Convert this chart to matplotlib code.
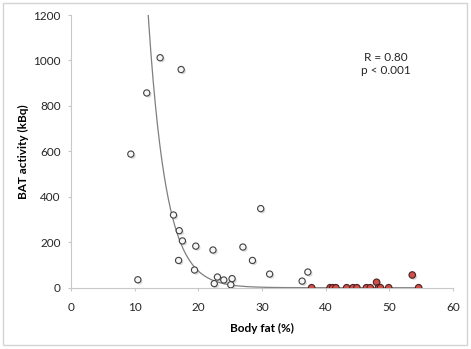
import matplotlib
matplotlib.use("Agg")
import matplotlib.pyplot as plt
import matplotlib.patheffects as pe
from matplotlib.patches import Rectangle
import numpy as np

plt.rcParams["font.family"] = ["Lato", "DejaVu Sans"]

# subjects with detectable BAT (open markers)
fat_open = [9.4, 11.9, 14.0, 17.3, 10.5, 16.1, 17.0, 17.5, 16.9, 19.6, 19.4, 22.3,
            22.5, 23.0, 24.0, 25.1, 25.3, 27.0, 29.8, 28.5, 31.2, 36.3, 37.2]
bat_open = [588, 857, 1012, 960, 35, 320, 251, 206, 120, 183, 78, 166,
            18, 47, 34, 13, 40, 179, 348, 120, 60, 29, 69]

# obese subjects (red markers)
fat_red = [37.8, 40.7, 41.1, 41.6, 43.3, 44.3, 44.9, 46.4, 47.0, 48.0, 48.3, 48.6,
           49.9, 53.6, 54.6]
bat_red = [0, 0, 0, 0, 0, 0, 0, 0, 0, 24, 0, 0, 0, 56, 0]

# exponential trendline y = A * exp(-B * x)
fit_A = 89000.0
fit_B = 0.355

stats_text = "R = 0.80\np < 0.001"

fig = plt.figure(figsize=(4.71, 3.49), dpi=100)
ax = fig.add_axes([0.1507, 0.1756, 0.8111, 0.7814])

shadow = [pe.SimplePatchShadow(offset=(1.2, -1.2), shadow_rgbFace="#999999", alpha=0.35),
          pe.Normal()]

xs = np.linspace(min(fat_open), max(fat_red), 400)
ax.plot(xs, fit_A * np.exp(-fit_B * xs), color="#7f7f7f", lw=0.9, zorder=2)

ax.scatter(fat_open, bat_open, s=20, facecolor="#f7f7f7", edgecolor="#404040",
           linewidth=0.8, zorder=3, path_effects=shadow)
ax.scatter(fat_red, bat_red, s=22, facecolor="#cf4f4a", edgecolor="#4a2220",
           linewidth=0.8, zorder=4, path_effects=shadow)

ax.set_xlim(0, 60)
ax.set_ylim(0, 1200)
ax.set_xticks(range(0, 61, 10))
ax.set_yticks(range(0, 1201, 200))

for side in ("top", "right"):
    ax.spines[side].set_visible(False)
for side in ("left", "bottom"):
    ax.spines[side].set_color("#c8c8c8")
    ax.spines[side].set_linewidth(0.8)

ax.tick_params(axis="both", colors="#c8c8c8", labelcolor="#262626", labelsize=8.5,
               length=2.5, width=0.8, direction="out")
ax.tick_params(axis="x", pad=8)
ax.tick_params(axis="y", pad=5)

ax.set_xlabel("Body fat (%)", fontsize=8.5, fontweight="bold", labelpad=7)
ax.set_ylabel("BAT activity (kBq)", fontsize=8.5, fontweight="bold", labelpad=3)

ax.text(49.5, 985, stats_text, ha="center", va="center", fontsize=8.5,
        color="#262626", linespacing=1.3)

fig.patches.append(Rectangle((3 / 471, 4 / 349), 464 / 471, 342 / 349,
                             transform=fig.transFigure, fill=False,
                             edgecolor="#d4d4d4", lw=1.0))

fig.savefig("out.png", dpi=100)
